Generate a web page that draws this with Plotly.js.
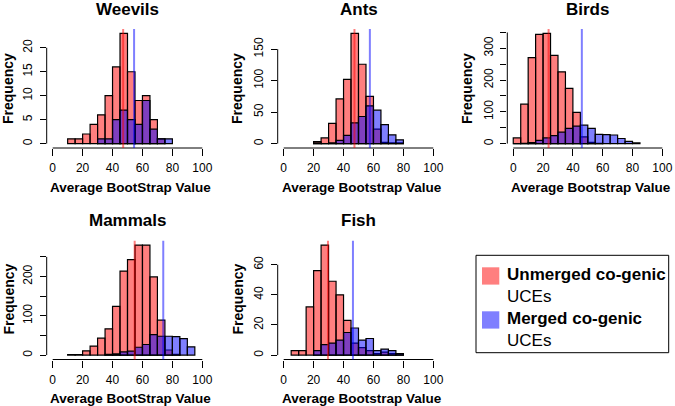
<!DOCTYPE html>
<html><head><meta charset="utf-8">
<script src="https://cdn.plot.ly/plotly-3.0.1.min.js"></script>
<style>html,body{margin:0;padding:0;background:#fff}#chart{width:675px;height:406px}</style>
</head><body><div id="chart"></div>
<script>
// bins: left edges of 5-wide bins, 0..95 (null = outside the histogram's range)
const binStarts = [0,5,10,15,20,25,30,35,40,45,50,55,60,65,70,75,80,85,90,95];
const panelTitles = ["Weevils","Ants","Birds","Mammals","Fish"];
const xAxisTitles = ["Average BootStrap Value","Average Bootstrap Value","Average Bootstrap Value","Average BootStrap Value","Average Bootstrap Value"];
const yAxisTitle = "Frequency";
const legendLabels = ["Unmerged co-genic","Merged co-genic"];
const legendSub = "UCEs";

const weevilsUnmerged = [null,null,1,1,2,4,6,10,16,23,15,9,10,5,1,null,null,null,null,null];
const weevilsMerged   = [null,null,null,null,null,null,1,1,5,7,5,4,9,3,1,1,null,null,null,null];
const antsUnmerged    = [null,null,null,null,3,9,32,71,102,175,126,75,23,2,1,1,null,null,null,null];
const antsMerged      = [null,null,null,null,1,0,1,5,13,33,43,60,53,30,14,6,null,null,null,null];
const birdsUnmerged   = [18,124,271,344,347,278,226,174,98,21,4,1,null,null,null,null,null,null,null,null];
const birdsMerged     = [0,1,3,10,18,25,36,48,55,58,48,29,28,27,16,7,2,null,null,null];
const mammalsUnmerged = [null,null,1,1,11,23,43,67,124,214,243,280,280,199,89,13,2,null,null,null];
const mammalsMerged   = [null,null,null,null,null,null,null,2,3,8,10,20,27,52,48,48,47,42,21,null];
const fishUnmerged    = [null,3,3,32,56,73,49,40,23,8,5,3,1,2,1,1,null,null,null,null];
const fishMerged      = [null,null,null,null,3,7,8,10,15,18,10,11,3,4,3,1,null,null,null,null];

const unmergedMeans = [47.1, 47.3, 23.7, 54.8, 29.6];
const mergedMeans   = [54.4, 57.6, 46.0, 73.9, 46.3];

const xTicks = [0,20,40,60,80,100];
const weevilsYTicks = [0,5,10,15,20];
const antsYTicks = [0,50,100,150];
const birdsYTicks = [0,50,100,150,200,250,300,350];
const mammalsYTicks = [0,50,100,150,200,250];
const fishYTicks = [0,20,40,60];
const weevilsYLabels = ["0","5","10","15","20"];
const antsYLabels = ["0","50","100","150"];
const birdsYLabels = ["0","","100","","200","","300",""];
const mammalsYLabels = ["0","","100","","200",""];
const fishYLabels = ["0","20","40","60"];

const unmergedSeries = [weevilsUnmerged, antsUnmerged, birdsUnmerged, mammalsUnmerged, fishUnmerged];
const mergedSeries = [weevilsMerged, antsMerged, birdsMerged, mammalsMerged, fishMerged];
const yTickSets = [weevilsYTicks, antsYTicks, birdsYTicks, mammalsYTicks, fishYTicks];
const yLabelSets = [weevilsYLabels, antsYLabels, birdsYLabels, mammalsYLabels, fishYLabels];

const W = 675, H = 406;
const FONT = "Liberation Sans, Arial, Helvetica, sans-serif";
const RED = "rgba(255,0,0,0.5)", BLUE = "rgba(0,0,255,0.5)";
const colPx = [[46.7,208.3],[277.7,439.3],[507.3,668.3]];
const rowPx = [[29,148],[240.7,359.5]];
const cells = [[0,0],[0,1],[0,2],[1,0],[1,1]];
const titleY = [10, 221];
const ylabX = [8, 237, 467];
const ylabY = [89, 299.5];
const xlabY = [187.5, 398.6];

const px = v => v / W;
const py = v => 1 - v / H;

const binCenters = binStarts.map(b => b + 2.5);
const binWidths = binStarts.map(() => 5);

const data = [];
const layout = {
  width: W, height: H,
  margin: {l:0, r:0, t:0, b:0},
  paper_bgcolor: "#fff", plot_bgcolor: "#fff",
  barmode: "overlay", showlegend: false,
  font: {family: FONT, color: "#000", size: 12},
  shapes: [], annotations: []
};

cells.forEach(([r, c], i) => {
  const n = i + 1;
  const xa = "x" + (n === 1 ? "" : n), ya = "y" + (n === 1 ? "" : n);
  const maxC = Math.max(...unmergedSeries[i].filter(v => v !== null), ...mergedSeries[i].filter(v => v !== null));
  [[unmergedSeries[i], RED], [mergedSeries[i], BLUE]].forEach(([vals, col]) => {
    data.push({
      type: "bar", x: binCenters, y: vals, width: binWidths,
      xaxis: xa, yaxis: ya, hoverinfo: "skip",
      marker: {color: col, line: {color: "#000", width: 1.2}}
    });
  });
  const yTicks = yTickSets[i];
  layout["xaxis" + (n === 1 ? "" : n)] = {
    domain: [px(colPx[c][0]), px(colPx[c][1])], anchor: ya,
    range: [-4, 104], showgrid: false, zeroline: false, showline: false,
    tickmode: "array", tickvals: xTicks, ticktext: xTicks.map(String),
    ticks: "outside", ticklen: 7, tickwidth: 1, tickcolor: "#000",
    tickfont: {size: 12, family: FONT, color: "#000"}, ticklabelstandoff: 2,
    fixedrange: true
  };
  layout["yaxis" + (n === 1 ? "" : n)] = {
    domain: [py(rowPx[r][1]), py(rowPx[r][0])], anchor: xa,
    range: [-0.04 * maxC, 1.04 * maxC], showgrid: false, zeroline: false, showline: false,
    tickmode: "array", tickvals: yTicks, ticktext: yLabelSets[i], tickangle: -90,
    ticks: "outside", ticklen: 6, tickwidth: 1, tickcolor: "#000",
    tickfont: {size: 12, family: FONT, color: "#000"}, ticklabelstandoff: 3,
    fixedrange: true
  };
  // detached R-style axis lines
  layout.shapes.push({type: "line", xref: xa, yref: ya + " domain", x0: xTicks[0], x1: xTicks[xTicks.length - 1], y0: 0, y1: 0, line: {color: "#000", width: 1}});
  layout.shapes.push({type: "line", xref: xa + " domain", yref: ya, x0: 0, x1: 0, y0: yTicks[0], y1: yTicks[yTicks.length - 1], line: {color: "#000", width: 1}});
  // mean lines
  layout.shapes.push({type: "line", xref: xa, yref: ya + " domain", x0: unmergedMeans[i], x1: unmergedMeans[i], y0: 0, y1: 1, line: {color: RED, width: 2}});
  layout.shapes.push({type: "line", xref: xa, yref: ya + " domain", x0: mergedMeans[i], x1: mergedMeans[i], y0: 0, y1: 1, line: {color: BLUE, width: 2}});
  const cx = (colPx[c][0] + colPx[c][1]) / 2;
  layout.annotations.push({text: "<b>" + panelTitles[i] + "</b>", xref: "paper", yref: "paper", x: px(cx), y: py(titleY[r]), xanchor: "center", yanchor: "middle", showarrow: false, font: {size: 17, family: FONT, color: "#000"}});
  layout.annotations.push({text: "<b>" + xAxisTitles[i] + "</b>", xref: "paper", yref: "paper", x: px(cx + 3), y: py(xlabY[r]), xanchor: "center", yanchor: "middle", showarrow: false, font: {size: 13.5, family: FONT, color: "#000"}});
  layout.annotations.push({text: "<b>" + yAxisTitle + "</b>", xref: "paper", yref: "paper", x: px(ylabX[c]), y: py(ylabY[r]), xanchor: "center", yanchor: "middle", textangle: -90, showarrow: false, font: {size: 14, family: FONT, color: "#000"}});
});

// legend (drawn manually, R style)
layout.shapes.push({type: "rect", xref: "paper", yref: "paper", x0: px(476), x1: px(668.7), y0: py(255.3), y1: py(352.7), line: {color: "#000", width: 1}, fillcolor: "rgba(0,0,0,0)"});
const swatchTops = [267.3, 311.3];
const legendTextY = [285.5, 329.5];
[RED, BLUE].forEach((col, k) => {
  layout.shapes.push({type: "rect", xref: "paper", yref: "paper", x0: px(482), x1: px(499.3), y0: py(swatchTops[k] + 17.3), y1: py(swatchTops[k]), line: {width: 0}, fillcolor: col});
  layout.annotations.push({text: "<b>" + legendLabels[k] + "</b><br>" + legendSub, xref: "paper", yref: "paper", x: px(505), y: py(legendTextY[k]), xanchor: "left", yanchor: "middle", align: "left", showarrow: false, font: {size: 17, family: FONT, color: "#000"}});
});

Plotly.newPlot("chart", data, layout, {staticPlot: true, displayModeBar: false});
</script></body></html>
